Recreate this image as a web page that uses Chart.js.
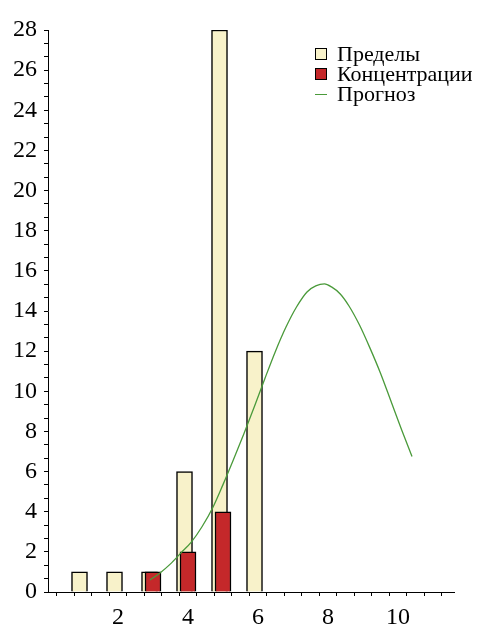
<!DOCTYPE html>
<html>
<head>
<meta charset="utf-8">
<script src="https://cdn.jsdelivr.net/npm/chart.js@4.4.0/dist/chart.umd.min.js"></script>
<style>
    body { margin: 0; background: #fff; }
    #wrap { position: relative; width: 486px; height: 624px; }
    #legend { position: absolute; left: 315px; top: 44px; font-family: 'Liberation Serif'; font-size: 22px; color: #000; }
    .row { height: 20px; line-height: 20px; display: flex; align-items: center; white-space: nowrap; }
    .sw { width: 10px; height: 10px; border: 1px solid #000; margin-right: 10px; }
    .ln { width: 12px; height: 0; border-top: 1px solid; margin-right: 10px; }
</style>
</head>
<body>
<div id="wrap">
    <canvas id="chart"></canvas>
    <div id="legend"></div>
</div>
<script>
// Пределы (bars)
const limitX = [0.9, 1.9, 2.9, 3.9, 4.9, 5.9];
const limitY = [1, 1, 1, 6, 28, 12];

// Концентрации (bars)
const concX = [3, 4, 5];
const concY = [1, 2, 4];

// Прогноз (curve)
const forecastX = [2.91, 3.2, 3.5, 3.8, 4.1, 4.4, 4.72, 5.0, 5.3, 5.6, 5.9, 6.2, 6.5, 6.8, 7.1, 7.4, 7.65, 7.9, 8.1, 8.35, 8.6, 8.9, 9.2, 9.5, 9.8, 10.1, 10.4];
const forecastY = [0.6, 0.95, 1.4, 1.95, 2.5, 3.25, 4.25, 5.35, 6.6, 7.9, 9.25, 10.65, 12.0, 13.2, 14.2, 14.95, 15.25, 15.35, 15.2, 14.85, 14.25, 13.3, 12.15, 10.9, 9.5, 8.1, 6.75];

const labels = ['Пределы', 'Концентрации', 'Прогноз'];
const xLabels = [2, 4, 6, 8, 10];
const yLabels = [0, 2, 4, 6, 8, 10, 12, 14, 16, 18, 20, 22, 24, 26, 28];
const xMinorStep = 0.5;
const yMinorStep = 2 / 3;

const colors = { limit: '#F8F2CA', conc: '#C4282A', forecast: '#4A9A3A' };

const pts = (xs, ys) => xs.map((x, i) => ({ x: x, y: ys[i] }));
const tickFont = { family: 'Liberation Serif', size: 24 };

function minorTicks(min, max, step) {
    const out = [];
    for (let v = min; v <= max + 1e-9; v += step) out.push({ value: Math.round(v * 1000) / 1000 });
    return out;
}

const chart = new Chart(document.getElementById('chart'), {
    type: 'bar',
    data: {
        datasets: [
            {
                label: labels[2], type: 'line', data: pts(forecastX, forecastY),
                borderColor: colors.forecast, borderWidth: 1.3, pointRadius: 0,
                cubicInterpolationMode: 'monotone', order: 1
            },
            {
                label: labels[1], data: pts(concX, concY),
                backgroundColor: colors.conc, borderColor: '#000', borderWidth: 1.5, order: 2
            },
            {
                label: labels[0], data: pts(limitX, limitY),
                backgroundColor: colors.limit, borderColor: '#000', borderWidth: 1.5, order: 3
            }
        ]
    },
    options: {
        responsive: true,
        maintainAspectRatio: false,
        animation: false,
        grouped: false,
        barThickness: 16,
        layout: { padding: { top: 30, right: 32, left: 0, bottom: 0 } },
        plugins: { legend: { display: false }, tooltip: { enabled: false } },
        scales: {
            x: {
                type: 'linear', min: 0, max: 11.6, offset: false,
                border: { display: true, color: '#000', width: 1 },
                grid: { drawOnChartArea: false, drawTicks: true, tickLength: 4, tickColor: '#000' },
                afterBuildTicks: s => { s.ticks = minorTicks(0.5, 11.5, xMinorStep); },
                afterFit: s => { s.height = 32; },
                ticks: {
                    autoSkip: false, maxRotation: 0, padding: 7, color: '#000', font: tickFont,
                    callback: v => xLabels.includes(Math.round(v * 1000) / 1000) ? String(v) : ''
                }
            },
            y: {
                min: 0, max: 28,
                border: { display: true, color: '#000', width: 1 },
                grid: { drawOnChartArea: false, drawTicks: true, tickLength: 4, tickColor: '#000' },
                afterBuildTicks: s => { s.ticks = minorTicks(0, 28, yMinorStep); },
                afterFit: s => { s.width = 48; },
                ticks: {
                    autoSkip: false, padding: 7, color: '#000', font: tickFont,
                    callback: v => {
                        const r = Math.round(v * 1000) / 1000;
                        return yLabels.includes(r) ? String(r) : '';
                    }
                }
            }
        }
    }
});

// Legend
const legendItems = [
    { text: labels[0], color: colors.limit, kind: 'box' },
    { text: labels[1], color: colors.conc, kind: 'box' },
    { text: labels[2], color: colors.forecast, kind: 'line' }
];
document.getElementById('legend').innerHTML = legendItems.map(it =>
    it.kind === 'box'
        ? `<div class="row"><span class="sw" style="background:${it.color}"></span>${it.text}</div>`
        : `<div class="row"><span class="ln" style="border-color:${it.color}"></span>${it.text}</div>`
).join('');
</script>
</body>
</html>
